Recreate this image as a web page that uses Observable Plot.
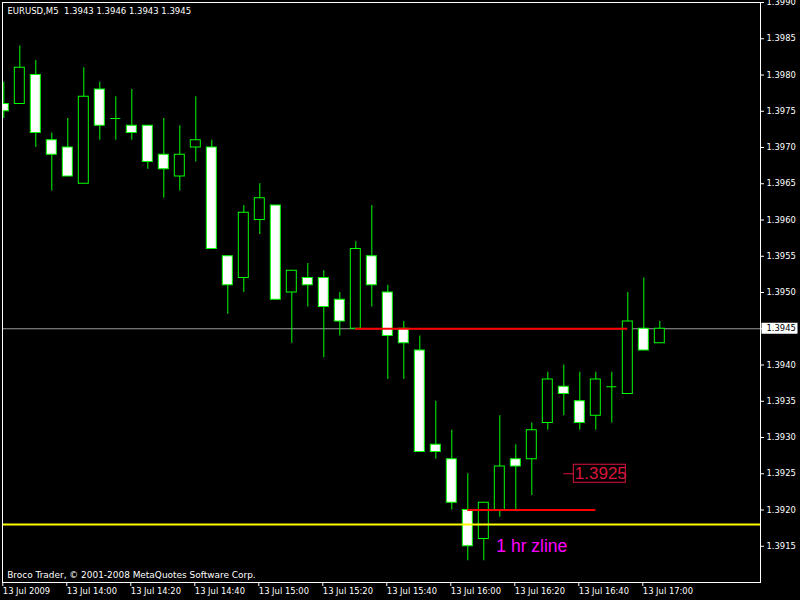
<!DOCTYPE html>
<html><head><meta charset="utf-8">
<script src="https://cdn.jsdelivr.net/npm/d3@7"></script>
<script src="https://cdn.jsdelivr.net/npm/@observablehq/plot@0.6"></script>
<style>
html,body{margin:0;padding:0;background:#000;}
#chart{width:800px;height:600px;overflow:hidden;}
</style></head><body><div id="chart"></div>
<script>
// ---- data (EURUSD M5, 13 Jul 2009) ----
const times = ["13:40","13:45","13:50","13:55","14:00","14:05","14:10","14:15","14:20","14:25","14:30","14:35","14:40","14:45","14:50","14:55","15:00","15:05","15:10","15:15","15:20","15:25","15:30","15:35","15:40","15:45","15:50","15:55","16:00","16:05","16:10","16:15","16:20","16:25","16:30","16:35","16:40","16:45","16:50","16:55","17:00","17:05"];
const opens  = [1.3976,1.3976,1.3980,1.3971,1.3970,1.3965,1.3978,1.3974,1.3973,1.3973,1.3969,1.3966,1.3970,1.3970,1.3955,1.3952,1.3960,1.3962,1.3950,1.3952,1.3952,1.3949,1.3945,1.3955,1.3950,1.3945,1.3942,1.3929,1.3927,1.3920,1.3916,1.3920,1.3927,1.3927,1.3932,1.3937,1.3935,1.3933,1.3937,1.3936,1.3945,1.3943];
const highs  = [1.3979,1.3984,1.3982,1.3972,1.3974,1.3981,1.3979,1.3977,1.3978,1.3973,1.3974,1.3973,1.3977,1.3971,1.3955,1.3962,1.3965,1.3962,1.3953,1.3954,1.3953,1.3950,1.3957,1.3962,1.3951,1.3946,1.3944,1.3935,1.3931,1.3925,1.3921,1.3933,1.3929,1.3932,1.3939,1.3940,1.3939,1.3939,1.3939,1.3950,1.3952,1.3946];
const lows   = [1.3974,1.3976,1.3970,1.3964,1.3966,1.3965,1.3971,1.3971,1.3971,1.3967,1.3963,1.3964,1.3968,1.3956,1.3947,1.3950,1.3958,1.3949,1.3943,1.3948,1.3941,1.3944,1.3945,1.3948,1.3938,1.3938,1.3928,1.3927,1.3920,1.3913,1.3913,1.3919,1.3920,1.3922,1.3931,1.3933,1.3931,1.3931,1.3932,1.3936,1.3942,1.3943];
const closes = [1.3975,1.3981,1.3972,1.3969,1.3966,1.3977,1.3973,1.3974,1.3972,1.3968,1.3967,1.3969,1.3971,1.3956,1.3951,1.3961,1.3963,1.3949,1.3953,1.3951,1.3948,1.3946,1.3956,1.3951,1.3944,1.3943,1.3928,1.3928,1.3921,1.3915,1.3921,1.3926,1.3926,1.3931,1.3938,1.3936,1.3932,1.3938,1.3937,1.3946,1.3942,1.3945];

const yTicks = [1.3915,1.3920,1.3925,1.3930,1.3935,1.3940,1.3945,1.3950,1.3955,1.3960,1.3965,1.3970,1.3975,1.3980,1.3985,1.3990];
const xTickTimes  = ["13:40","14:00","14:20","14:40","15:00","15:20","15:40","16:00","16:20","16:40","17:00"];
const xTickLabels = ["13 Jul 2009","13 Jul 14:00","13 Jul 14:20","13 Jul 14:40","13 Jul 15:00","13 Jul 15:20","13 Jul 15:40","13 Jul 16:00","13 Jul 16:20","13 Jul 16:40","13 Jul 17:00"];

// chart objects
const bidPrice   = [1.3945];
const zlinePrice = [1.3918];
const trendStart = ["15:30","16:05"];
const trendEnd   = ["16:55","16:45"];
const trendPrice = [1.3945, 1.3920];
const noteText   = ["1 hr zline"];
const noteTime   = ["16:25"];
const notePrice  = [1.3915];
const labelTime  = ["16:35"];
const labelPrice = [1.3925];
const titleText  = ["EURUSD,M5\u00a0 1.3943 1.3946 1.3943 1.3945"];
const footerText = ["Broco Trader, \u00a9 2001-2008 MetaQuotes Software Corp."];

// ---- helpers ----
const T = s => new Date(Date.UTC(2009, 6, 13, +s.slice(0, 2), +s.slice(3)));
const candles = times.map((s, i) => ({t: T(s), o: opens[i], h: highs[i], l: lows[i], c: closes[i]}));
const labelMap = new Map(xTickTimes.map((s, i) => [+T(s), xTickLabels[i]]));
const x0 = new Date(+T("13:40") - 24400);
const x1 = new Date(+T("13:40") + 14188000);

const LIME = "#00ff00", CRIMSON = "#dc143c";
const small = "'DejaVu Sans', sans-serif";
const arial = "'Liberation Sans', Arial, sans-serif";

const chart = Plot.plot({
  width: 800, height: 600,
  marginTop: 2, marginLeft: 2, marginRight: 40, marginBottom: 18,
  style: {background: "#000", color: "#fff", fontFamily: small, fontSize: "8.4px"},
  x: {type: "utc", domain: [x0, x1]},
  y: {domain: [1.3910, 1.3990]},
  marks: [
    Plot.ruleY(bidPrice, {y: d => d, stroke: "#9a9a9a", strokeWidth: 1}),
    Plot.ruleX(candles, {x: "t", y1: "l", y2: "h", stroke: LIME, strokeWidth: 1, clip: "frame"}),
    Plot.rect(candles.filter(d => d.o !== d.c), {
      x1: "t", x2: "t", y1: "o", y2: "c", insetLeft: -5, insetRight: -5,
      fill: d => d.c < d.o ? "#ffffff" : "#000000", stroke: LIME, strokeWidth: 1, clip: "frame"
    }),
    Plot.ruleY(candles.filter(d => d.o === d.c), {x1: "t", x2: "t", y: "o", insetLeft: -5, insetRight: -5, stroke: LIME, clip: "frame"}),
    Plot.ruleY(zlinePrice, {y: d => d, stroke: "#ffff00", strokeWidth: 2}),
    Plot.ruleY(trendPrice, {x1: (d, i) => T(trendStart[i]), x2: (d, i) => T(trendEnd[i]), y: d => d, stroke: "#ff0000", strokeWidth: 2}),
    Plot.text(noteText, {x: (d, i) => T(noteTime[i]), y: (d, i) => notePrice[i], text: d => d, fill: "#ff00ff",
      fontFamily: arial, fontSize: 17.5, textAnchor: "middle", lineAnchor: "middle"}),
    Plot.ruleY(labelPrice, {x1: (d, i) => T(labelTime[i]), x2: (d, i) => T(labelTime[i]), y: d => d, insetRight: -10, stroke: CRIMSON}),
    Plot.rect(labelPrice, {x1: (d, i) => T(labelTime[i]), x2: (d, i) => T(labelTime[i]), y1: d => d, y2: d => d,
      insetLeft: 10, insetRight: -62, insetTop: -9, insetBottom: -9, fill: "none", stroke: CRIMSON}),
    Plot.text(labelPrice, {x: (d, i) => T(labelTime[i]), y: d => d, text: d => d.toFixed(4), dx: 11, fill: CRIMSON,
      fontFamily: arial, fontSize: 17, textAnchor: "start", lineAnchor: "middle"}),
    Plot.frame({stroke: "#fff"}),
    Plot.axisY(yTicks, {anchor: "right", tickSize: 3, tickPadding: 3, tickFormat: d3.format(".4f"), label: null,
      fontSize: 8.4, fontFamily: small}),
    Plot.axisX(xTickTimes.map(T), {anchor: "bottom", tickSize: 4, tickPadding: 2, tickFormat: d => labelMap.get(+d),
      textAnchor: "start", dx: -1, label: null, fontSize: 8.4, fontFamily: small}),
    Plot.rect(bidPrice, {x1: () => x1, x2: () => x1, y1: d => d, y2: d => d, insetLeft: 1.5, insetRight: -37.5,
      insetTop: -5.5, insetBottom: -5.5, fill: "#fff"}),
    Plot.text(bidPrice, {y: d => d, text: d => d.toFixed(4), frameAnchor: "right", dx: 6, textAnchor: "start",
      fill: "#000", fontSize: 8.4, fontFamily: small}),
    Plot.text(titleText, {frameAnchor: "top-left", dx: 5, dy: 5, text: d => d, lineAnchor: "top", textAnchor: "start",
      fill: "#fff", fontSize: 8.5, fontFamily: small}),
    Plot.text(footerText, {frameAnchor: "bottom-left", dx: 4.7, dy: -11, text: d => d, lineAnchor: "top", textAnchor: "start",
      fill: "#fff", fontSize: 8.95, fontFamily: small})
  ]
});
document.getElementById("chart").appendChild(chart);
</script>
</body></html>
